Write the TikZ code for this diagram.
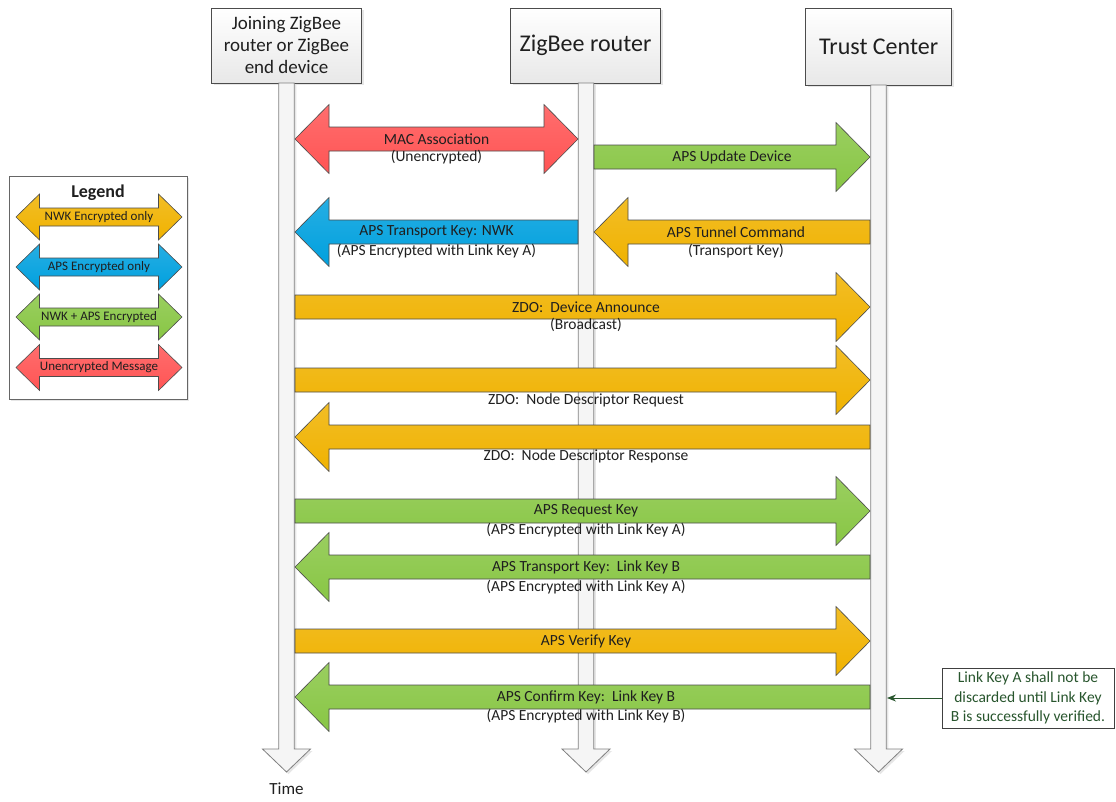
\documentclass[tikz,border=0pt]{standalone}
\usepackage{fontspec}
\setmainfont{Carlito}
\usetikzlibrary{shadows,arrows.meta}
\definecolor{nwk-orange}{RGB}{240,178,0}
\definecolor{aps-blue}{RGB}{0,160,222}
\definecolor{both-green}{RGB}{136,198,68}
\definecolor{plain-red}{RGB}{255,84,84}
\definecolor{note-green}{RGB}{40,85,45}

% block arrows in pixel units: tail x, tip x, centre y, colour
\newcommand{\rmsg}[4]{%
  \path[msg, top color=#4!85!white, bottom color=#4]
    (#1,#3-12) -- (#2-34,#3-12) -- (#2-34,#3-34.5) -- (#2,#3)
    -- (#2-34,#3+34.5) -- (#2-34,#3+12) -- (#1,#3+12) -- cycle;}
\newcommand{\lmsg}[4]{%
  \path[msg, top color=#4!85!white, bottom color=#4]
    (#2,#3-12) -- (#1+34,#3-12) -- (#1+34,#3-34.5) -- (#1,#3)
    -- (#1+34,#3+34.5) -- (#1+34,#3+12) -- (#2,#3+12) -- cycle;}
% left tip, right tip, centre y, colour, head length, shaft half, head half
\newcommand{\dmsg}[7]{%
  \path[msg, top color=#4!85!white, bottom color=#4]
    (#1,#3) -- (#1+#5,#3-#7) -- (#1+#5,#3-#6) -- (#2-#5,#3-#6)
    -- (#2-#5,#3-#7) -- (#2,#3) -- (#2-#5,#3+#7) -- (#2-#5,#3+#6)
    -- (#1+#5,#3+#6) -- (#1+#5,#3+#7) -- cycle;}
\newcommand{\lifeline}[2]{%
  \path[life] (#1-7.75,#2) -- (#1-7.75,749) -- (#1-24,749) -- (#1,772)
    -- (#1+24,749) -- (#1+7.75,749) -- (#1+7.75,#2) -- cycle;}

\begin{document}
\begin{tikzpicture}[x=1pt, y=-1pt, text=black!88,
    msg/.style={draw=black!70, line width=0.6pt},
    life/.style={draw=black!50, line width=0.8pt, fill=black!4,
                 drop shadow={shadow xshift=2pt, shadow yshift=-2pt, opacity=0.2}},
    head/.style={draw=black!70, line width=0.8pt, top color=white, bottom color=black!9,
                 minimum width=150pt, minimum height=75pt, align=center,
                 drop shadow={shadow xshift=2pt, shadow yshift=-2pt, opacity=0.2}},
    lbl/.style={inner sep=0pt, font=\fontsize{15.5}{18}\selectfont},
    leg/.style={inner sep=0pt, font=\fontsize{13}{15}\selectfont}]
  \useasboundingbox (0,0) rectangle (1116,801);

  % participants
  \node[head, font=\fontsize{19}{22}\selectfont] (joiner) at (286.5,45.5)
       {Joining ZigBee\\router or ZigBee\\end device};
  \node[head, font=\fontsize{24}{28}\selectfont] (router) at (585.5,45.5) {ZigBee router};
  \node[head, font=\fontsize{24}{28}\selectfont, minimum width=146pt, minimum height=77pt]
       (trust) at (878.7,46.5) {Trust Center};

  % time lines
  \lifeline{286.5}{83}
  \lifeline{586}{83}
  \lifeline{878.5}{85}
  \node[font=\fontsize{17}{20}\selectfont] (time) at (286.5,789) {Time};

  % messages
  \dmsg{295}{578}{139}{plain-red}{34}{12}{34.5}
  \node[lbl] (mac)  at (436.5,139) {MAC Association};
  \node[lbl] (mac2) at (436.5,157) {(Unencrypted)};

  \rmsg{594}{870}{157}{both-green}
  \node[lbl] (upd) at (732,157) {APS Update Device};

  \lmsg{295}{578}{232}{aps-blue}
  \node[lbl] (tknwk)  at (436.5,232) {APS Transport Key: NWK};
  \node[lbl] (tknwk2) at (436.5,251) {(APS Encrypted with Link Key A)};

  \lmsg{594}{870}{232}{nwk-orange}
  \node[lbl] (tun)  at (736,232) {APS Tunnel Command};
  \node[lbl] (tun2) at (736,251) {(Transport Key)};

  \rmsg{295}{870}{307}{nwk-orange}
  \node[lbl] (ann)  at (586,307) {ZDO:\ \ Device Announce};
  \node[lbl] (ann2) at (586,325) {(Broadcast)};

  \rmsg{295}{870}{380}{nwk-orange}
  \node[lbl] (ndreq) at (586,400) {ZDO:\ \ Node Descriptor Request};

  \lmsg{295}{870}{437}{nwk-orange}
  \node[lbl] (ndrsp) at (586,456) {ZDO:\ \ Node Descriptor Response};

  \rmsg{295}{870}{511}{both-green}
  \node[lbl] (req)  at (586,511) {APS Request Key};
  \node[lbl] (req2) at (586,530) {(APS Encrypted with Link Key A)};

  \lmsg{295}{870}{567}{both-green}
  \node[lbl] (tkb)  at (586,567) {APS Transport Key:\ \ Link Key B};
  \node[lbl] (tkb2) at (586,587) {(APS Encrypted with Link Key A)};

  \rmsg{295}{870}{641}{nwk-orange}
  \node[lbl] (ver) at (586,641) {APS Verify Key};

  \lmsg{295}{870}{697}{both-green}
  \node[lbl] (conf)  at (586,697) {APS Confirm Key:\ \ Link Key B};
  \node[lbl] (conf2) at (586,716) {(APS Encrypted with Link Key B)};

  % note
  \node[draw=black!75, line width=0.8pt, fill=white, text=note-green, align=center,
        minimum width=172pt, minimum height=60pt, inner sep=2pt,
        font=\fontsize{15.5}{19.3}\selectfont] (note) at (1028,698)
       {Link Key A shall not be\\discarded until Link Key\\B is successfully verified.};
  \coordinate (tcedge) at (887,698);
  \draw[-{Stealth[length=9pt, width=7pt]}, note-green, line width=1pt] (note) -- (tcedge);

  % legend
  \node[draw=black!60, line width=0.8pt, fill=white, minimum width=178pt, minimum height=223pt,
        drop shadow={shadow xshift=2pt, shadow yshift=-2pt, opacity=0.2}] (legend) at (98,287.5) {};
  \node[font=\fontsize{18}{20}\selectfont\bfseries] (legtitle) at (98,193) {Legend};
  \dmsg{16}{182}{217}{nwk-orange}{23.5}{9}{23}
  \node[leg] (legnwk) at (99,217) {NWK Encrypted only};
  \dmsg{16}{182}{267}{aps-blue}{23.5}{9}{23}
  \node[leg] (legaps) at (99,267) {APS Encrypted only};
  \dmsg{16}{182}{317}{both-green}{23.5}{9}{23}
  \node[leg] (legboth) at (99,317) {NWK + APS Encrypted};
  \dmsg{16}{182}{367.5}{plain-red}{23.5}{9}{23}
  \node[leg] (legnone) at (99,367.5) {Unencrypted Message};
\end{tikzpicture}
\end{document}
